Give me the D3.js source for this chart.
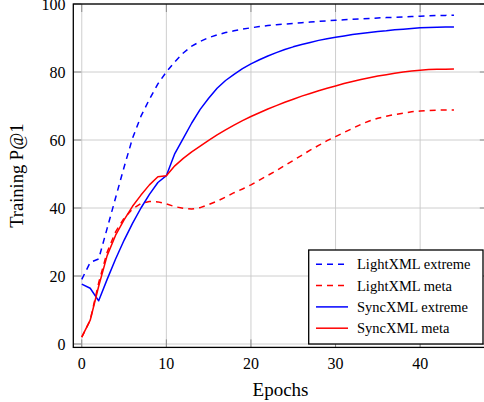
<!DOCTYPE html>
<html><head><meta charset="utf-8">
<script src="https://cdn.jsdelivr.net/npm/d3@7/dist/d3.min.js"></script>
<style>html,body{margin:0;padding:0;background:#fff;overflow:hidden}</style>
</head><body><svg id="c" width="484" height="402"></svg>
<script>
const epochs = d3.range(0, 45);
const lightExtreme = [19,24,25,34,43,52,60.5,67,72,76.5,80,83,85.6,87.6,89,90.1,90.9,91.6,92.1,92.6,93.0,93.35,93.65,93.9,94.1,94.3,94.5,94.7,94.9,95.05,95.2,95.35,95.5,95.6,95.75,95.9,96.0,96.1,96.2,96.3,96.4,96.5,96.6,96.65,96.7];
const lightMeta = [2,7,18,27,33,37,39.7,41.3,41.9,41.8,41.2,40.4,39.9,39.7,40.1,41,42,43.2,44.5,45.6,46.8,48.2,49.6,51,52.5,54,55.5,57,58.4,59.8,61,62.2,63.4,64.6,65.6,66.4,67,67.5,67.9,68.3,68.5,68.7,68.8,68.8,68.8];
const syncExtreme = [17.6,16.4,12.7,19,25,30.5,35.5,40,44,47.5,49.5,56,60.5,65,69,72.3,75.2,77.5,79.3,81,82.4,83.6,84.7,85.7,86.6,87.4,88.1,88.7,89.3,89.8,90.2,90.6,91.0,91.3,91.6,91.9,92.1,92.4,92.6,92.8,93.0,93.1,93.15,93.2,93.2];
const syncMeta = [2,7,17,26,32,36.5,40.5,43.8,46.8,49.2,49.5,52.4,54.6,56.5,58.2,59.9,61.5,63,64.4,65.7,66.9,68,69.1,70.1,71.1,72,72.9,73.7,74.5,75.2,75.9,76.6,77.2,77.8,78.3,78.8,79.2,79.6,80,80.3,80.5,80.7,80.8,80.8,80.9];
const seriesNames = ["LightXML extreme","LightXML meta","SyncXML extreme","SyncXML meta"];
const seriesData = [lightExtreme, lightMeta, syncExtreme, syncMeta];
const seriesColor = ["#0000ff","#ff0000","#0000ff","#ff0000"];
const seriesDashed = [true,true,false,false];
const xTicks = [0,10,20,30,40];
const yTicks = [0,20,40,60,80,100];

const svg = d3.select("#c");
const font = "'Liberation Serif', 'Times New Roman', serif";
const L = 73.3, R = 487.8, T = 4, B = 347.4;
const x = d3.scaleLinear().domain([-1, 48]).range([L, R]);
const y = d3.scaleLinear().domain([-1, 100]).range([B, T]);

// grid
const g = svg.append("g");
g.selectAll(".gx").data(xTicks).enter().append("line")
  .attr("x1", d=>x(d)).attr("x2", d=>x(d)).attr("y1", T).attr("y2", B)
  .attr("stroke", "#c8c8c8").attr("stroke-width", 0.9);
g.selectAll(".gy").data(yTicks).enter().append("line")
  .attr("x1", L).attr("x2", R).attr("y1", d=>y(d)).attr("y2", d=>y(d))
  .attr("stroke", "#c8c8c8").attr("stroke-width", 0.9);
// ticks (inside, both sides)
const tl = 8;
xTicks.forEach(d=>{
  g.append("line").attr("x1",x(d)).attr("x2",x(d)).attr("y1",B).attr("y2",B-tl).attr("stroke","#808080").attr("stroke-width",0.9);
  g.append("line").attr("x1",x(d)).attr("x2",x(d)).attr("y1",T).attr("y2",T+tl).attr("stroke","#808080").attr("stroke-width",0.9);
});
yTicks.forEach(d=>{
  g.append("line").attr("x1",L).attr("x2",L+tl).attr("y1",y(d)).attr("y2",y(d)).attr("stroke","#808080").attr("stroke-width",0.9);
  g.append("line").attr("x1",R).attr("x2",R-tl).attr("y1",y(d)).attr("y2",y(d)).attr("stroke","#808080").attr("stroke-width",0.9);
});

// series
const line = d3.line().x((d,i)=>x(epochs[i])).y(d=>y(d));
seriesData.forEach((s,k)=>{
  svg.append("path").datum(s).attr("d", line).attr("fill","none")
    .attr("stroke", seriesColor[k]).attr("stroke-width", 1.5)
    .attr("stroke-linejoin","round")
    .attr("stroke-dasharray", seriesDashed[k] ? "6,5" : null);
});

// frame
svg.append("rect").attr("x",L).attr("y",T).attr("width",R-L).attr("height",B-T)
  .attr("fill","none").attr("stroke","#000").attr("stroke-width",1.3);

// tick labels
svg.selectAll(".xl").data(xTicks).enter().append("text")
  .attr("x", d=>x(d)).attr("y", 363.5).attr("dy","0.35em")
  .attr("text-anchor","middle").attr("font-family",font).attr("font-size",16)
  .text(d=>d);
svg.selectAll(".yl").data(yTicks).enter().append("text")
  .attr("x", 65.5).attr("y", d=>y(d)+0.5).attr("dy","0.35em")
  .attr("text-anchor","end").attr("font-family",font).attr("font-size",16)
  .text(d=>d);

// axis labels
svg.append("text").attr("x", (L+R)/2).attr("y", 396)
  .attr("text-anchor","middle").attr("font-family",font).attr("font-size",19)
  .text("Epochs");
svg.append("text").attr("transform", `translate(22.5,${(T+B)/2}) rotate(-90)`)
  .attr("text-anchor","middle").attr("font-family",font).attr("font-size",18.5)
  .text("Training P@1");

// legend
const lg = svg.append("g");
lg.append("rect").attr("x",308.7).attr("y",250).attr("width",174.3).attr("height",94)
  .attr("fill","#fff").attr("stroke","#000").attr("stroke-width",1.3);
seriesNames.forEach((n,k)=>{
  const cy = 264.3 + k*21.3;
  lg.append("line").attr("x1",316).attr("x2",348).attr("y1",cy).attr("y2",cy)
    .attr("stroke",seriesColor[k]).attr("stroke-width",1.5)
    .attr("stroke-dasharray", seriesDashed[k] ? "6,5" : null);
  lg.append("text").attr("x",357).attr("y",cy).attr("dy","0.35em")
    .attr("font-family",font).attr("font-size",14.5).text(n);
});
</script></body></html>
